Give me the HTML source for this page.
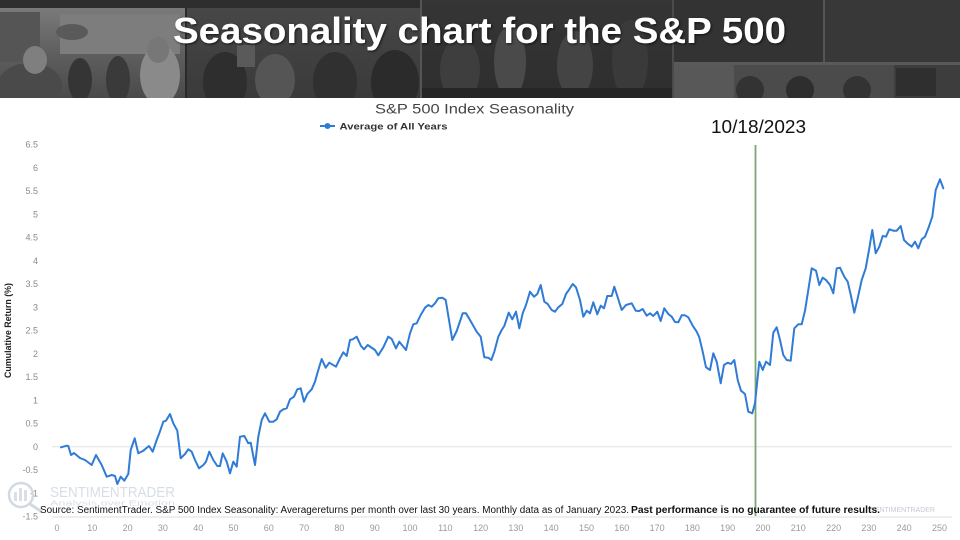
<!DOCTYPE html>
<html>
<head>
<meta charset="utf-8">
<style>
html,body{margin:0;padding:0;background:#fff;}
body{width:960px;height:540px;overflow:hidden;}
svg{display:block;}
text{font-family:"Liberation Sans",Arial,sans-serif;}
</style>
</head>
<body>
<svg width="960" height="540" viewBox="0 0 960 540" xmlns="http://www.w3.org/2000/svg">
  <defs>
    <linearGradient id="p1" x1="0" y1="0" x2="0" y2="1">
      <stop offset="0" stop-color="#7a7a7a"/>
      <stop offset="0.5" stop-color="#5f5f5f"/>
      <stop offset="1" stop-color="#4a4a4a"/>
    </linearGradient>
    <linearGradient id="p2" x1="0" y1="0" x2="0" y2="1">
      <stop offset="0" stop-color="#474747"/>
      <stop offset="1" stop-color="#3a3a3a"/>
    </linearGradient>
    <linearGradient id="p3" x1="0" y1="0" x2="0" y2="1">
      <stop offset="0" stop-color="#353535"/>
      <stop offset="1" stop-color="#2e2e2e"/>
    </linearGradient>
    <filter id="sh" x="-5%" y="-20%" width="110%" height="140%">
      <feDropShadow dx="1" dy="1" stdDeviation="1.2" flood-color="#000" flood-opacity="0.7"/>
    </filter>
    <clipPath id="hdr"><rect x="0" y="0" width="960" height="98"/></clipPath>
  </defs>

  <!-- Header photo collage -->
  <g clip-path="url(#hdr)">
  <rect x="0" y="0" width="960" height="98" fill="#3a3a3a"/>
  <rect x="0" y="0" width="420" height="8" fill="#2e2e2e"/>
  <rect x="0" y="8" width="185" height="90" fill="url(#p1)"/>
  <rect x="0" y="12" width="40" height="50" fill="#555"/>
  <rect x="60" y="14" width="120" height="40" fill="#7d7d7d"/>
  <ellipse cx="72" cy="32" rx="16" ry="8" fill="#5a5a5a"/>
  <ellipse cx="30" cy="85" rx="32" ry="22" fill="#4a4a4a"/>
  <ellipse cx="35" cy="60" rx="12" ry="14" fill="#7f7f7f"/>
  <ellipse cx="80" cy="80" rx="12" ry="22" fill="#353535"/>
  <ellipse cx="118" cy="80" rx="12" ry="24" fill="#3a3a3a"/>
  <ellipse cx="160" cy="75" rx="20" ry="30" fill="#8a8a8a"/>
  <ellipse cx="158" cy="50" rx="11" ry="13" fill="#777"/>
  <rect x="185" y="8" width="2" height="90" fill="#2a2a2a"/>
  <rect x="187" y="8" width="233" height="90" fill="url(#p2)"/>
  <ellipse cx="225" cy="82" rx="22" ry="30" fill="#2e2e2e"/>
  <ellipse cx="275" cy="80" rx="20" ry="26" fill="#555"/>
  <ellipse cx="335" cy="82" rx="22" ry="30" fill="#303030"/>
  <ellipse cx="395" cy="82" rx="24" ry="32" fill="#2b2b2b"/>
  <rect x="237" y="45" width="18" height="22" fill="#5a5a5a"/>
  <rect x="420" y="0" width="2" height="98" fill="#555"/>
  <rect x="422" y="0" width="250" height="98" fill="url(#p3)"/>
  <ellipse cx="460" cy="70" rx="20" ry="32" fill="#3e3e3e"/>
  <ellipse cx="510" cy="62" rx="16" ry="36" fill="#4a4a4a"/>
  <ellipse cx="575" cy="65" rx="18" ry="34" fill="#444"/>
  <ellipse cx="630" cy="60" rx="18" ry="40" fill="#3a3a3a"/>
  <rect x="422" y="88" width="250" height="10" fill="#262626"/>
  <rect x="672" y="0" width="2" height="98" fill="#4a4a4a"/>
  <rect x="674" y="0" width="149" height="62" fill="#333"/>
  <rect x="825" y="0" width="135" height="62" fill="#383838"/>
  <rect x="823" y="0" width="2" height="62" fill="#555"/>
  <rect x="674" y="62" width="286" height="3" fill="#5a5a5a"/>
  <rect x="674" y="65" width="60" height="33" fill="#585858"/>
  <rect x="734" y="65" width="160" height="33" fill="#4b4b4b"/>
  <rect x="894" y="65" width="66" height="33" fill="#3d3d3d"/>
  <rect x="896" y="68" width="40" height="28" fill="#2f2f2f"/>
  <ellipse cx="750" cy="90" rx="14" ry="14" fill="#333"/>
  <ellipse cx="800" cy="90" rx="14" ry="14" fill="#2e2e2e"/>
  <ellipse cx="857" cy="90" rx="14" ry="14" fill="#333"/>
  </g>

  <!-- Header title -->
  <text x="173" y="43" font-size="36" font-weight="bold" fill="#ffffff" textLength="613" lengthAdjust="spacingAndGlyphs" filter="url(#sh)">Seasonality chart for the S&amp;P 500</text>

  <!-- Chart title & legend -->
  <text x="375" y="113.5" font-size="13.5" fill="#444" textLength="199" lengthAdjust="spacingAndGlyphs">S&amp;P 500 Index Seasonality</text>
  <line x1="320" y1="126" x2="335" y2="126" stroke="#2f7bd6" stroke-width="2"/>
  <circle cx="327.5" cy="126" r="3" fill="#2f7bd6"/>
  <text x="339.5" y="129.5" font-size="9.5" font-weight="bold" fill="#333" textLength="108" lengthAdjust="spacingAndGlyphs">Average of All Years</text>

  <!-- Date annotation -->
  <text x="711" y="133" font-size="18.5" fill="#111" textLength="95" lengthAdjust="spacingAndGlyphs">10/18/2023</text>

  <!-- Y axis title -->
  <text transform="translate(11,330.5) rotate(-90)" text-anchor="middle" font-size="9" font-weight="bold" fill="#222" textLength="95" lengthAdjust="spacingAndGlyphs">Cumulative Return (%)</text>

  <!-- Y tick labels -->
  <g font-size="9" fill="#8a8a8a" text-anchor="end">
    <text x="38" y="147.5">6.5</text>
    <text x="38" y="170.8">6</text>
    <text x="38" y="194">5.5</text>
    <text x="38" y="217.3">5</text>
    <text x="38" y="240.6">4.5</text>
    <text x="38" y="263.8">4</text>
    <text x="38" y="287.1">3.5</text>
    <text x="38" y="310.4">3</text>
    <text x="38" y="333.6">2.5</text>
    <text x="38" y="356.9">2</text>
    <text x="38" y="380.1">1.5</text>
    <text x="38" y="403.4">1</text>
    <text x="38" y="426.7">0.5</text>
    <text x="38" y="449.9">0</text>
    <text x="38" y="473.2">-0.5</text>
    <text x="38" y="496.5">-1</text>
    <text x="38" y="519.7">-1.5</text>
  </g>

  <!-- Gridlines -->
  <line x1="52" y1="446.7" x2="952" y2="446.7" stroke="#e2e2e2" stroke-width="1"/>
  <line x1="52" y1="517" x2="952" y2="517" stroke="#d9dee7" stroke-width="1"/>

  <!-- Watermark logo -->
  <g opacity="0.9">
    <circle cx="21" cy="495" r="12" fill="none" stroke="#cfd5de" stroke-width="2.5"/>
    <rect x="14" y="492" width="3" height="9" fill="#d6dbe3"/>
    <rect x="19" y="488" width="3" height="13" fill="#d6dbe3"/>
    <rect x="24" y="490" width="3" height="11" fill="#d6dbe3"/>
    <line x1="30" y1="504" x2="42" y2="512" stroke="#cfd5de" stroke-width="3"/>
    <text x="50" y="497" font-size="14.5" fill="#d4dae3" textLength="125" lengthAdjust="spacingAndGlyphs">SENTIMENTRADER</text>
    <text x="50" y="505.5" font-size="7" fill="#d4dae3" textLength="125" lengthAdjust="spacingAndGlyphs">Analysis over Emotion</text>
  </g>
  <text x="870" y="512" font-size="7" fill="#c5cad2" textLength="65" lengthAdjust="spacingAndGlyphs">SENTIMENTRADER</text>

  <!-- Green vertical marker -->
  <line x1="755.5" y1="145" x2="755.5" y2="516" stroke="#7aa870" stroke-width="1.8"/>

  <!-- Series -->
  <polyline fill="none" stroke="#2f7bd6" stroke-width="2" stroke-linejoin="round" stroke-linecap="round" points="
61,447.3 66.7,445.7 68.3,446 71,455 74,453 80,458 85,460 91.7,465 96,455 101.7,465 106.7,476.7 111.7,475 115,476 117.3,484 120.7,476.7 124.3,480.7 128.3,474 130.7,450 134.7,438.3 138.3,453.3 143.3,450.7 149,446 152.7,451.7 156.7,440 159.3,433.3 163.3,421.7 166,420.7 170,414 173.3,423.3 177.3,430.7 180.7,458.3 185,454 188.3,449.3 191.7,451.7 195,460 199,468.3 203.3,465 206,461.7 209.3,451.7 213.3,460 217.3,466 220,466 222.7,453.3 226.7,461.7 230,473.3 233.3,461.7 236.7,466.7 240,436.7 244.3,436 248.3,443.3 250.7,442.7 255,465 258.3,436.7 261.7,420 265,413.3 269.3,421.7 273.3,421.7 276.7,419.3 280,411.7 283.3,409.3 286.7,408.3 290,399.3 294,396.7 297.3,389.3 300.7,388.3 304,401.7 307.3,394 311.7,389.3 315,381.7
318.3,370 321.7,359 325.7,367.7 329.3,362.7 336,366.7 340,358.3 343.3,352.3 346.7,356 350,340 352.7,339.3 356.7,336.7 361,346 364,349.3 367.7,345 375,350 378.3,355.3 383.3,347.3 388.3,336.7 391.7,339 396,348.3 399.3,341.7 406,350 410,333.3 413.3,324.3 416.7,323.3 420.7,315 425,307.7 428.3,305 431.7,306.7 435,303.3 438.3,298.3 442.3,297.7 445.7,300 449,320 452.3,340 456.7,331 462.7,313.3 466,313.3 470,320 476.7,331.7 480.7,336.7 484.3,357.3 488.3,357.7 491.3,360 494.3,351.7 498.3,336.7 501.7,330 504.3,326 508.7,312.7 512.3,319.3 516,311.7 519.3,328.3 522.7,313.3 526,305 530,291.7 534,296.7 537.3,294 540.7,285 544.3,301.7 547.7,304 551.7,310 555,311.7 558.3,307.3 562.3,304 566,294 569.3,289.3 572.7,284 576,287.3 580,300 583.3,316.7 586.7,310.7 590,313.3 593.3,302.3 597.3,314.3 600.7,305.7
604,308.3 607.3,296 611.7,296 614.3,286.7 617.7,297.3 621.7,310 626,305 631.7,303.3 635.7,310.7 639.3,311 642.7,309 646.7,315.7 650,313.3 653.3,316 657.3,311.7 660.7,321 664.3,308.3 668.3,314 671.7,316.7 675,322 678.3,322.3 681.7,315.3 685,315.3 688.3,317.3 692.7,325.7 696.7,331.7 699.3,337.3 702.7,351.7 706,367.3 710,370 713.3,353.3 716.7,361.7 720.7,383.3 724,365 727.7,362.7 731,364 734.3,360 737.7,380 741,390.7 745,394 748.3,411.7 752.3,413.3 755,403.3 759.3,361.7 762.7,370 766,361.7 770,365 773.3,332.7 776.7,327.3 780,340 783.3,355 786.7,360 790.7,360.7 794.3,328.3 798.3,324.3 801.7,324.3 805,310.7 808.3,290 811.7,268.3 816,270.7 819.3,285 822.7,277.7 826,280 830,285 833.3,293.3 836.7,268.3 840,267.7 844.3,276.7 847.7,281.7 851,296 854.3,312.7 857.7,298.3 861.7,280 865.7,268.3 869.3,248.3 872.3,230 875.7,253.3 879.3,246.7 882.7,236 886,236.7 889.3,229.3 893.3,230.7 896.7,230.7 900.7,226 904,240 907.3,243.3 911.7,246.7 915,241.7 918.3,248.3 921.7,239.3 925,236.7 928.3,228.3 932.3,216.7 935.7,190 940,179.3 943.3,188.3"/>

  <!-- Source note -->
  <text x="40" y="513" font-size="10" fill="#111" textLength="589" lengthAdjust="spacingAndGlyphs">Source: SentimentTrader. S&amp;P 500 Index Seasonality: Averagereturns per month over last 30 years. Monthly data as of January 2023.</text>
  <text x="631" y="513" font-size="10" font-weight="bold" fill="#111" textLength="249" lengthAdjust="spacingAndGlyphs">Past performance is no guarantee of future results.</text>

  <!-- X tick labels -->
  <g font-size="9" fill="#9a9a9a" text-anchor="middle">
    <text x="57" y="531">0</text>
    <text x="92.3" y="531">10</text>
    <text x="127.6" y="531">20</text>
    <text x="162.9" y="531">30</text>
    <text x="198.2" y="531">40</text>
    <text x="233.5" y="531">50</text>
    <text x="268.8" y="531">60</text>
    <text x="304.1" y="531">70</text>
    <text x="339.4" y="531">80</text>
    <text x="374.7" y="531">90</text>
    <text x="410" y="531">100</text>
    <text x="445.3" y="531">110</text>
    <text x="480.6" y="531">120</text>
    <text x="515.9" y="531">130</text>
    <text x="551.2" y="531">140</text>
    <text x="586.5" y="531">150</text>
    <text x="621.8" y="531">160</text>
    <text x="657.1" y="531">170</text>
    <text x="692.4" y="531">180</text>
    <text x="727.7" y="531">190</text>
    <text x="763" y="531">200</text>
    <text x="798.3" y="531">210</text>
    <text x="833.6" y="531">220</text>
    <text x="868.9" y="531">230</text>
    <text x="904.2" y="531">240</text>
    <text x="939.5" y="531">250</text>
  </g>
</svg>
</body>
</html>
